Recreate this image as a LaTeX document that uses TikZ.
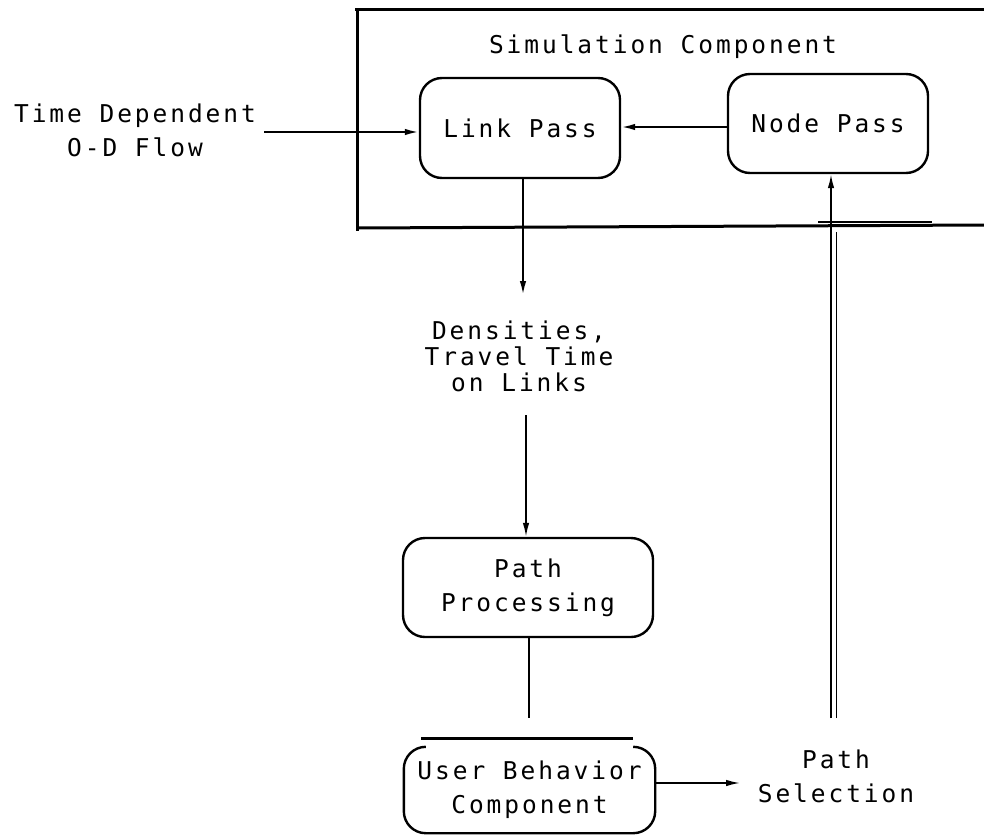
\documentclass[tikz,border=0pt]{standalone}
\usepackage{fontspec}
\newfontfamily\plotfont[LetterSpace=12]{DejaVu Sans Mono}
\usetikzlibrary{arrows.meta,calc}
\begin{document}
\begin{tikzpicture}[x=1pt,y=-1pt,
  txt/.style={font=\plotfont\fontsize{24.5}{34}\selectfont, inner sep=0pt, align=center},
  box/.style={draw, line width=2.4pt, rounded corners=22pt, inner sep=0pt, txt},
  arr/.style={-{Latex[length=14pt,width=6.5pt]}, line width=2pt},
  frame/.style={line width=3pt},
  thin/.style={line width=1.3pt}]
\useasboundingbox (0,0) rectangle (984,835);

% frame of the simulation component
\coordinate (ftl) at (355,9);
\coordinate (ftr) at (984,9);
\coordinate (fl1) at (357,9);
\coordinate (fl2) at (357,231);
\coordinate (fbl) at (357,228);
\coordinate (fbr) at (984,225);
\draw[frame] (ftl) -- (ftr);
\draw[frame] (fl1) -- (fl2);
\draw[frame] (fbl) -- (fbr);
\coordinate (s1) at (818,222);
\coordinate (s2) at (932,222);
\draw[line width=2.6pt] (s1) -- (s2);

\node[txt] (sim) at (663,47) {Simulation Component};

% boxes
\node[box, minimum width=200pt, minimum height=100pt] (lp) at (520,128) {Link Pass};
\node[box, minimum width=200pt, minimum height=99pt] (np) at (828,123.5) {Node Pass};
\node[box, minimum width=250pt, minimum height=99pt] (pp) at (528,587.5) {Path\\Processing};
\node[txt, minimum width=251pt, minimum height=86pt] (ub) at (529.5,790) {User Behavior\\Component};
\draw[line width=2.4pt, rounded corners=22pt]
  ($(ub.north west)+(22,0)$) -- (ub.north west) -- (ub.south west) -- (ub.south east) -- (ub.north east) -- ($(ub.north east)+(-22,0)$);

% texts
\node[txt] (od) at (135,130) {Time Dependent\\O-D Flow};
\node[txt, font=\plotfont\fontsize{24.5}{26}\selectfont] (dens) at (519,356) {Densities,\\Travel Time\\on Links};
\node[txt] (ps) at (836,776.5) {Path\\Selection};

% connectors
\coordinate (odend) at (264,132);
\draw[arr] (odend) -- (odend -| lp.west);
\draw[arr] (np.west |- 0,127) -- (lp.east |- 0,127);
\coordinate (dtop) at (523,295);
\draw[arr] (lp.south -| dtop) -- (dtop);
\coordinate (dbot) at (526,415);
\draw[arr, line width=1.6pt] (dbot) -- (pp.north -| dbot);
\coordinate (ppend) at (529,718);
\draw[thin] (pp.south -| ppend) -- (ppend);
\coordinate (b1) at (421,738);
\coordinate (b2) at (633,738);
\draw[line width=3pt] (b1) -- (b2);
\coordinate (psl) at (740,783);
\draw[arr, line width=1.6pt] (ub.east |- psl) -- (psl);
\coordinate (v1) at (831,718);
\coordinate (v2) at (836.5,718);
\coordinate (v2t) at (836.5,232);
\draw[arr, line width=1.6pt] (v1) -- (np.south -| v1);
\draw[line width=1.6pt] (v2) -- (v2t);
\end{tikzpicture}
\end{document}
